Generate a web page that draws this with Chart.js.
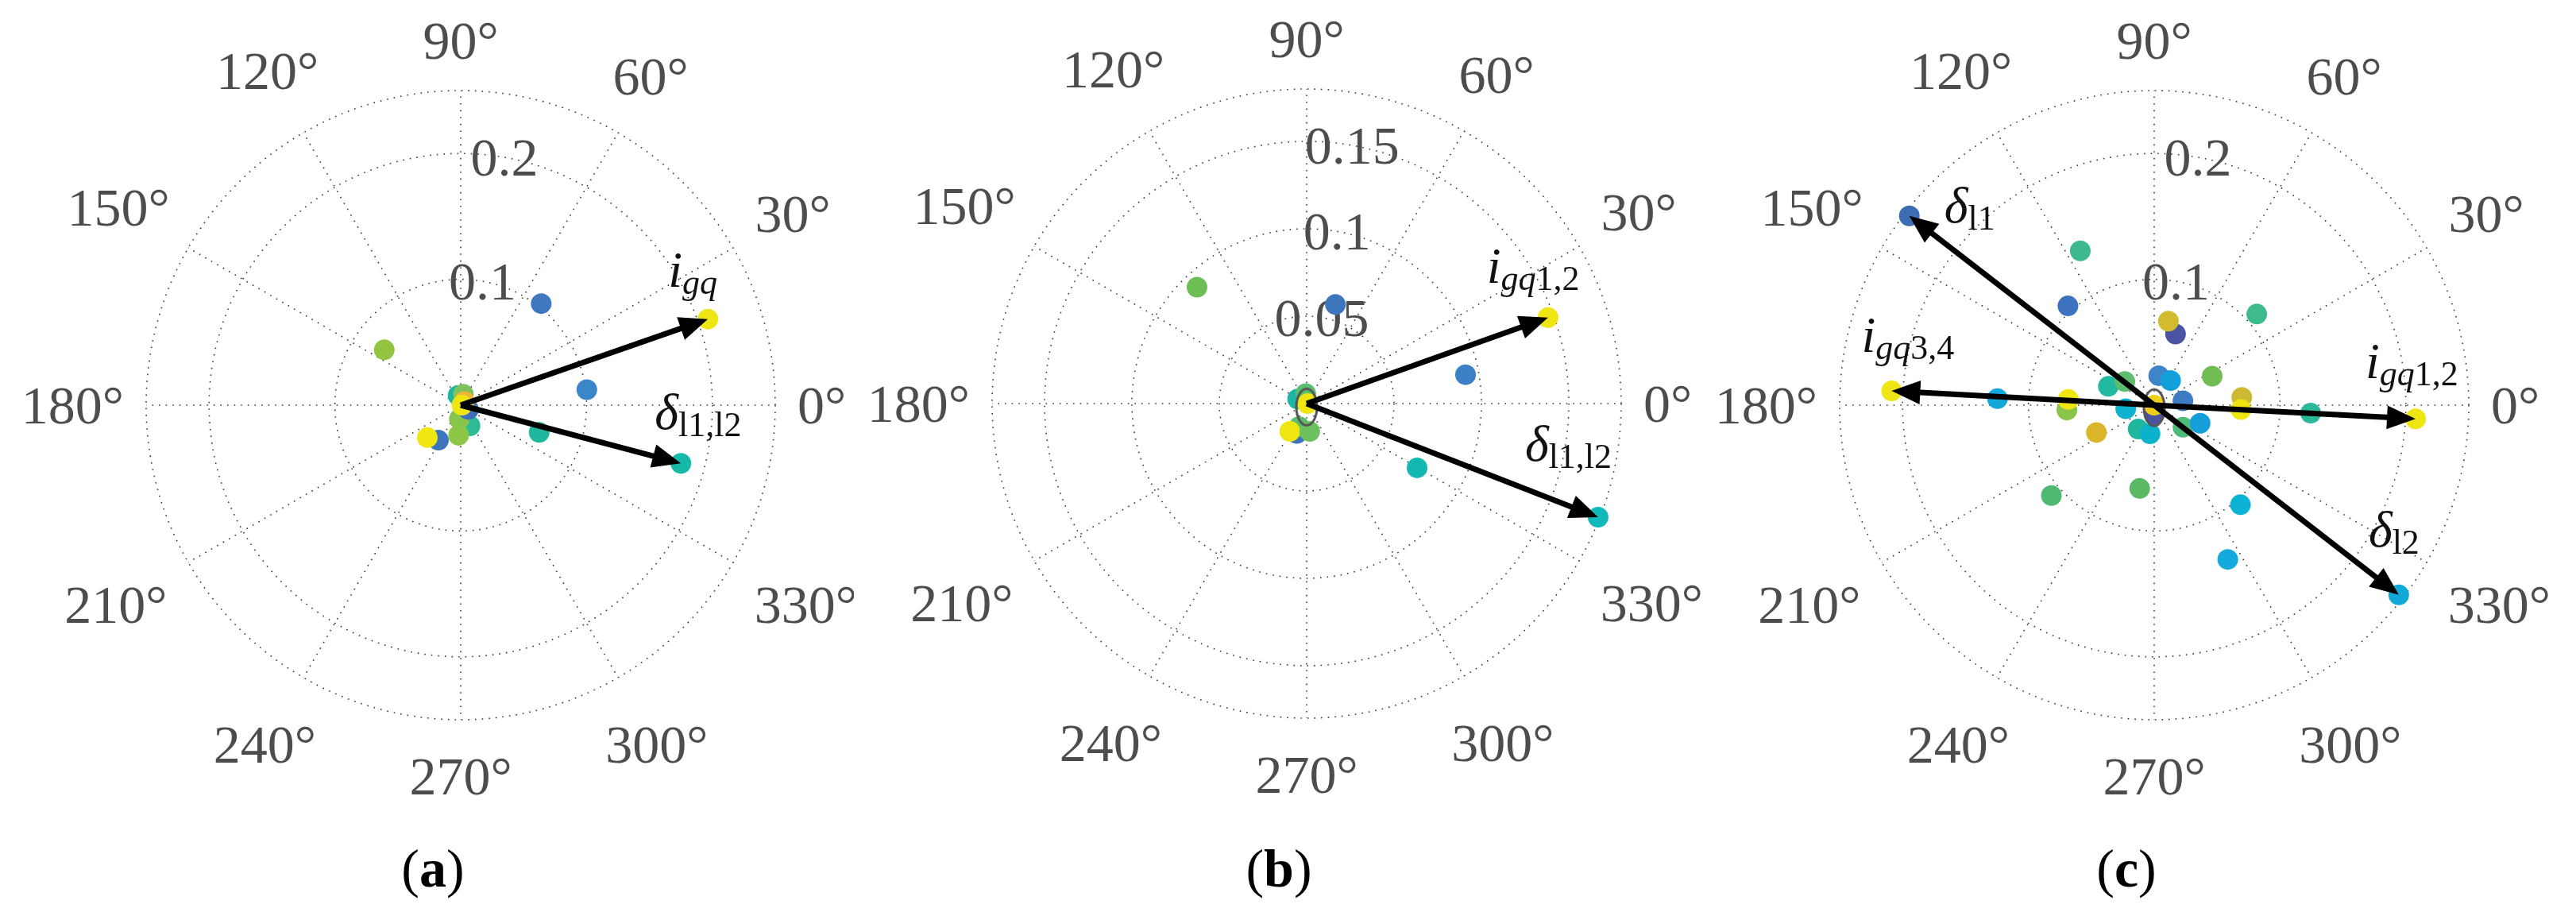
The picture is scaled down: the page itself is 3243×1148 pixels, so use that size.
<!DOCTYPE html>
<html lang="en">

<head>
    <meta charset="UTF-8" />
    <title>Polar scatter (a), (b), (c)</title>
    <script src="https://cdn.jsdelivr.net/npm/chart.js"></script>
    <style>
        body {
            margin: 0;
            background: #fff;
        }

        #wrap {
            position: relative;
            width: 3243px;
            height: 1148px;
        }

        canvas {
            position: absolute;
            top: 0;
        }
    </style>
</head>

<body>
    <div id="wrap">
        <canvas id="chartA" width="1075" height="1148" style="left:0px"></canvas>
        <canvas id="chartB" width="1080" height="1148" style="left:1075px"></canvas>
        <canvas id="chartC" width="1088" height="1148" style="left:2155px"></canvas>
    </div>

    <script>
        // angle ticks (degrees)
        const thetaTicks = [0, 30, 60, 90, 120, 150, 180, 210, 240, 270, 300, 330];
        const thetaTickLabels = ['0°', '30°', '60°', '90°', '120°', '150°', '180°', '210°', '240°', '270°', '300°', '330°'];

        // (a)
        const thetaA = [51.6, 144.1, 7.0, 340.9, 345.2, 19.2, 237.5, 224.2, 294.1, 265.9, 264.5, 105.0, 76.6, 331.0, 45.0, 0.0];
        const rA = [0.103, 0.075, 0.101, 0.066, 0.181, 0.208, 0.033, 0.037, 0.018, 0.024, 0.011, 0.008, 0.009, 0.007, 0.004, 0.001];
        const rTicksA = [0.1, 0.2];
        const rMaxA = 0.25;
        const arrowThetaA = [19.2, 345.2];
        const arrowRA = [0.208, 0.181];

        // (b)
        const thetaB = [133.3, 73.8, 10.3, 329.8, 338.7, 19.6, 251.6, 251.9, 238.9, 276.2, 153.0, 95.5, 0.0];
        const rB = [0.0915, 0.059, 0.0924, 0.0731, 0.179, 0.1466, 0.018, 0.0139, 0.0186, 0.016, 0.0058, 0.0057, 0.0005];
        const rTicksB = [0.05, 0.1, 0.15];
        const rMaxB = 0.18;
        const arrowThetaB = [19.6, 338.7];
        const arrowRB = [0.1466, 0.179];

        // (c)
        const thetaC = [142.3, 115.6, 131.0, 73.3, 80.4, 41.6, 26.5, 81.3, 56.4, 157.7, 141.2, 176.9, 177.6, 183.2, 176.2,
            187.1, 8.6, 5.1, 357.1, 357.1, 357.0, 205.3, 236.1, 261.7, 322.6, 338.5, 221.3, 260.1, 310.9, 295.5, 322.2, 270.0, 0.0];
        const rC = [0.246, 0.136, 0.1045, 0.059, 0.0677, 0.109, 0.0515, 0.0237, 0.0235, 0.0394, 0.0299, 0.209, 0.1247, 0.0695, 0.0685,
            0.0228, 0.0231, 0.0699, 0.069, 0.1245, 0.208, 0.0508, 0.0229, 0.023, 0.0288, 0.0392, 0.1088, 0.0672, 0.1047, 0.1358, 0.246, 0.0075, 0.0];
        const rTicksC = [0.1, 0.2];
        const rMaxC = 0.25;
        const arrowThetaC = [142.3, 322.2, 357.0, 176.9];
        const arrowRC = [0.246, 0.246, 0.208, 0.209];

        // marker colours (parula-like)
        const colorsA = ['#3F78C1', '#93C43F', '#3B86C8', '#1FB89F', '#16B9A8', '#EEE513', '#3D74BE', '#EFE612',
            '#2DBB95', '#8FC646', '#86C64C', '#1DB6A3', '#7DC25A', '#3D6FBA', '#F0B43C', '#EEE513'];
        const colorsB = ['#6CBF55', '#3D76BD', '#3C80C6', '#13B8B0', '#12B9BC', '#EEE513', '#3D70BC', '#5BBE6C',
            '#EEE513', '#6DC05E', '#1DB5A6', '#58BE70', '#EEE513'];
        const colorsC = ['#3D6DB5', '#3CB98D', '#3D72BF', '#4A52A4', '#D2BB2D', '#3DBB8B', '#72BD53', '#3F84C6', '#12A0DB',
            '#22B9A0', '#5CBD6E', '#EEE513', '#11A8DA', '#88C54A', '#EEE513', '#0DB3CE', '#3D7CC2', '#CDBA32', '#EEE513',
            '#2BB79A', '#EEE513', '#DAB52A', '#1FB89F', '#0CB2CC', '#4DBC7A', '#169EDB', '#4FB973', '#5BB966', '#0DB3D4',
            '#12A9DC', '#11AAD8', '#4A52A4', '#F0D016'];

        // arrow labels: [text, italic, subscript]
        const IGQ = [['i', 1, 0], ['gq', 1, 1]];
        const IGQ12 = [['i', 1, 0], ['gq', 1, 1], ['1,2', 0, 1]];
        const IGQ34 = [['i', 1, 0], ['gq', 1, 1], ['3,4', 0, 1]];
        const D1112 = [['δ', 1, 0], ['l1,l2', 0, 1]];
        const D11 = [['δ', 1, 0], ['l1', 0, 1]];
        const D12 = [['δ', 1, 0], ['l2', 0, 1]];

        const R_PX = 396;
        const SERIF = '"Liberation Serif", "Times New Roman", serif';

        // hollow ellipse marker at the origin
        const ring = document.createElement('canvas');
        ring.width = 34; ring.height = 54;
        const rctx = ring.getContext('2d');
        rctx.strokeStyle = '#555';
        rctx.lineWidth = 3;
        rctx.beginPath();
        rctx.ellipse(17, 27, 13, 23, 0, 0, 2 * Math.PI);
        rctx.stroke();

        const rad = d => d * Math.PI / 180;
        const toXY = (t, r) => ({ x: r * Math.cos(rad(t)), y: r * Math.sin(rad(t)) });

        function drawMath(ctx, x, y, parts) {
            let cur = x;
            ctx.textAlign = 'left';
            ctx.textBaseline = 'alphabetic';
            parts.forEach(([t, it, sub]) => {
                const size = sub ? 44 : 64;
                ctx.font = (it ? 'italic ' : '') + size + 'px ' + SERIF;
                ctx.fillText(t, cur, sub ? y + 9 : y);
                cur += ctx.measureText(t).width;
            });
        }

        const polarDeco = {
            id: 'polarDeco',
            beforeDatasetsDraw(chart, args, o) {
                const { ctx, scales: { x, y } } = chart;
                const cx = x.getPixelForValue(0), cy = y.getPixelForValue(0);
                const R = x.getPixelForValue(o.rMax) - cx;
                ctx.save();
                // dotted grid: rings + spokes
                ctx.strokeStyle = 'rgba(20,20,20,0.85)';
                ctx.lineWidth = 1.6;
                ctx.setLineDash([1.6, 7]);
                [...o.rTicks, o.rMax].forEach(r => {
                    ctx.beginPath();
                    ctx.arc(cx, cy, x.getPixelForValue(r) - cx, 0, 2 * Math.PI);
                    ctx.stroke();
                });
                thetaTicks.forEach(t => {
                    const p = toXY(t, o.rMax);
                    ctx.beginPath();
                    ctx.moveTo(cx, cy);
                    ctx.lineTo(x.getPixelForValue(p.x), y.getPixelForValue(p.y));
                    ctx.stroke();
                });
                ctx.setLineDash([]);

                ctx.fillStyle = '#4d4d4d';
                ctx.font = '68px ' + SERIF;
                ctx.textAlign = 'center';
                ctx.textBaseline = 'alphabetic';
                thetaTicks.forEach((t, i) => {
                    const c = Math.cos(rad(t)), s = Math.sin(rad(t));
                    const w = ctx.measureText(thetaTickLabels[i]).width;
                    const off = R + 28 + Math.abs(c) * w / 2 + (s > 0 ? 35 : 43) * Math.abs(s);
                    ctx.fillText(thetaTickLabels[i], cx + off * c, cy - off * s + 23);
                });
                // r tick labels sit on their ring at 80°
                o.rTicks.forEach(r => {
                    const p = toXY(80, r);
                    ctx.fillText(String(r), x.getPixelForValue(p.x), y.getPixelForValue(p.y) + 23);
                });

                // panel letter
                ctx.fillStyle = '#000';
                ctx.font = '68px ' + SERIF;
                const wp = ctx.measureText('(').width;
                ctx.font = 'bold 68px ' + SERIF;
                const wl = ctx.measureText(o.letter).width;
                let lx = cx - 35 - (2 * wp + wl) / 2;
                const ly = 1116;
                ctx.textAlign = 'left';
                ctx.font = '68px ' + SERIF;
                ctx.fillText('(', lx, ly);
                ctx.font = 'bold 68px ' + SERIF;
                ctx.fillText(o.letter, lx + wp, ly);
                ctx.font = '68px ' + SERIF;
                ctx.fillText(')', lx + wp + wl, ly);
                ctx.restore();
            },
            afterDatasetsDraw(chart, args, o) {
                const { ctx, scales: { x, y } } = chart;
                const cx = x.getPixelForValue(0), cy = y.getPixelForValue(0);
                ctx.save();
                ctx.fillStyle = '#000';
                ctx.strokeStyle = '#000';
                o.arrowTheta.forEach((t, i) => {
                    const p = toXY(t, o.arrowR[i]);
                    const tx = x.getPixelForValue(p.x), ty = y.getPixelForValue(p.y);
                    const ang = Math.atan2(ty - cy, tx - cx);
                    const L = Math.hypot(tx - cx, ty - cy);
                    const hl = 36, hw = 15;
                    const ca = Math.cos(ang), sa = Math.sin(ang);
                    ctx.lineWidth = 7;
                    ctx.lineCap = 'butt';
                    ctx.beginPath();
                    ctx.moveTo(cx, cy);
                    ctx.lineTo(cx + (L - hl + 4) * ca, cy + (L - hl + 4) * sa);
                    ctx.stroke();
                    const bx = tx - hl * ca, by = ty - hl * sa;
                    ctx.beginPath();
                    ctx.moveTo(tx, ty);
                    ctx.lineTo(bx - hw * sa, by + hw * ca);
                    ctx.lineTo(bx + hw * sa, by - hw * ca);
                    ctx.closePath();
                    ctx.fill();
                    const off = o.labelOffsets[i];
                    ctx.fillStyle = '#111';
                    drawMath(ctx, tx + off[0], ty + off[1], o.labels[i]);
                    ctx.fillStyle = '#000';
                });
                ctx.restore();
            }
        };

        function makeChart(id, cxLocal, cy, theta, r, colors, rTicks, rMax, arrowTheta, arrowR, labels, labelOffsets, letter, withRing) {
            const canvas = document.getElementById(id);
            const W = canvas.width, H = canvas.height;
            const datasets = [{
                data: theta.map((t, i) => toXY(t, r[i])),
                backgroundColor: colors,
                pointRadius: 13,
                borderWidth: 0,
                clip: false,
                order: 1
            }];
            if (withRing) {
                datasets.push({
                    data: [toXY(270, 0.002)],
                    pointStyle: ring,
                    clip: false,
                    order: 0
                });
            }
            return new Chart(canvas.getContext('2d'), {
                type: 'scatter',
                data: { datasets },
                options: {
                    responsive: false,
                    animation: false,
                    devicePixelRatio: 1,
                    events: [],
                    layout: {
                        padding: {
                            left: cxLocal - R_PX,
                            right: W - cxLocal - R_PX,
                            top: cy - R_PX,
                            bottom: H - cy - R_PX
                        }
                    },
                    scales: {
                        x: { type: 'linear', min: -rMax, max: rMax, display: false },
                        y: { type: 'linear', min: -rMax, max: rMax, display: false }
                    },
                    plugins: {
                        legend: { display: false },
                        tooltip: { enabled: false },
                        polarDeco: { rTicks, rMax, arrowTheta, arrowR, labels, labelOffsets, letter }
                    }
                },
                plugins: [polarDeco]
            });
        }

        makeChart('chartA', 580, 510, thetaA, rA, colorsA, rTicksA, rMaxA, arrowThetaA, arrowRA,
            [IGQ, D1112], [[-50, -41], [-33, -43]], 'a', false);
        makeChart('chartB', 570, 508, thetaB, rB, colorsB, rTicksB, rMaxB, arrowThetaB, arrowRB,
            [IGQ12, D1112], [[-77, -44], [-92, -71]], 'b', true);
        makeChart('chartC', 557, 510, thetaC, rC, colorsC, rTicksC, rMaxC, arrowThetaC, arrowRC,
            [D11, D12, IGQ12, IGQ34], [[44, 8], [-38, -61], [-63, -51], [-38, -49]], 'c', true);
    </script>
</body>

</html>
